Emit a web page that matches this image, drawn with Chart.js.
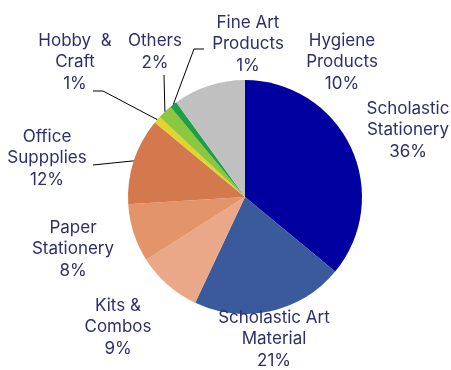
<!DOCTYPE html>
<html>
<head>
<meta charset="utf-8">
<script src="https://cdn.jsdelivr.net/npm/chart.js@4"></script>
<style>
  html, body { margin: 0; padding: 0; background: #fff; }
  #wrap { width: 451px; height: 370px; }
</style>
</head>
<body>
<div id="wrap"><canvas id="pie"></canvas></div>
<script>
// categories and shares (%)
const categories = [
  'Scholastic Stationery', 'Scholastic Art Material', 'Kits & Combos',
  'Paper Stationery', 'Office Suppplies', 'Hobby & Craft',
  'Others', 'Fine Art Products', 'Hygiene Products'
];
const shares = [36, 21, 9, 8, 12, 1, 2, 1, 10];
const labelLines = [
  ['Scholastic', 'Stationery'], ['Scholastic Art', 'Material'], ['Kits &', 'Combos'],
  ['Paper', 'Stationery'], ['Office', 'Suppplies'], ['Hobby  &', 'Craft'],
  ['Others'], ['Fine Art', 'Products'], ['Hygiene', 'Products']
];
const sliceColors = [
  '#0000a0', '#3a5a9b', '#eba888', '#e49469', '#d4794e',
  '#e0d52c', '#8dc63f', '#1f9e48', '#c0c0c0'
];

const textColor = '#2e2e6b';
const font = '17px Inter';
const lineH = 21.5;

// label block centres relative to the pie centre, in px (layout only)
const labelPos = [
  [163, -67], [29, 142], [-127, 130], [-172, 52], [-198, -39],
  [-170, -135], [-90, -145], [3, -153], [97, -135]
];
// leader line bend/end points relative to pie centre (null = none)
const leaders = [
  null, null, null, null, [[-152, -32]],
  [[-142, -106], [-152, -106]], [[-81, -122]], [[-51, -148], [-41, -148]], null
];

const outsideLabels = {
  id: 'outsideLabels',
  afterDraw(chart) {
    const ctx = chart.ctx;
    const arcs = chart.getDatasetMeta(0).data;
    ctx.save();
    // leader lines
    ctx.strokeStyle = '#000';
    ctx.lineWidth = 1;
    arcs.forEach((arc, i) => {
      if (!leaders[i]) return;
      const mid = (arc.startAngle + arc.endAngle) / 2;
      const r = arc.outerRadius;
      ctx.beginPath();
      ctx.moveTo(arc.x + Math.cos(mid) * r, arc.y + Math.sin(mid) * r);
      leaders[i].forEach(p => ctx.lineTo(arc.x + p[0], arc.y + p[1]));
      ctx.stroke();
    });
    // text
    ctx.fillStyle = textColor;
    ctx.font = font;
    ctx.textAlign = 'center';
    ctx.textBaseline = 'middle';
    arcs.forEach((arc, i) => {
      const lines = labelLines[i].concat([shares[i] + '%']);
      const cx = arc.x + labelPos[i][0];
      const cy = arc.y + labelPos[i][1];
      const top = cy - (lines.length - 1) * lineH / 2;
      lines.forEach((t, j) => ctx.fillText(t, cx, top + j * lineH));
    });
    ctx.restore();
  }
};

new Chart(document.getElementById('pie'), {
  type: 'pie',
  data: {
    labels: categories,
    datasets: [{
      data: shares,
      backgroundColor: sliceColors,
      borderWidth: 0
    }]
  },
  options: {
    responsive: true,
    maintainAspectRatio: false,
    animation: false,
    layout: { padding: { left: 128, right: 89, top: 80, bottom: 56 } },
    plugins: {
      legend: { display: false },
      tooltip: { enabled: false }
    }
  },
  plugins: [outsideLabels]
});
</script>
</body>
</html>
